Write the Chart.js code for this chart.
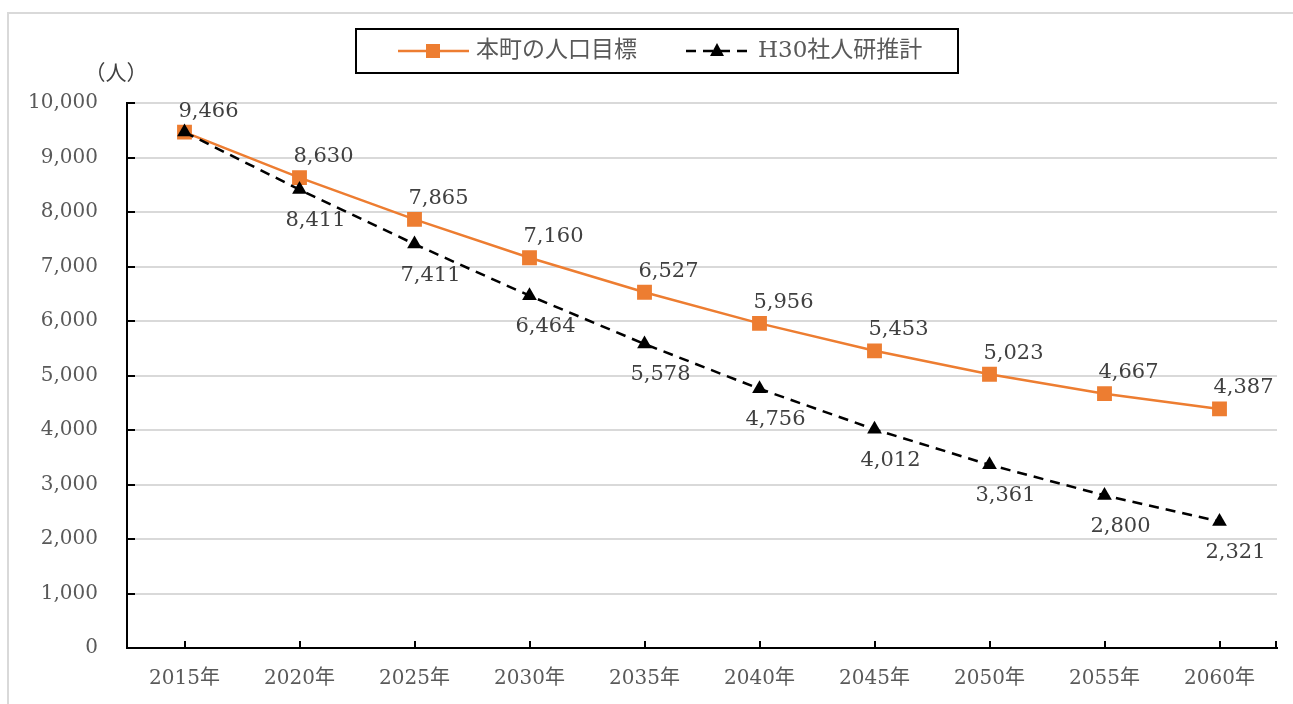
<!DOCTYPE html>
<html><head><meta charset="utf-8">
<script src="https://cdn.jsdelivr.net/npm/chart.js@4/dist/chart.umd.min.js"></script>
<style>html,body{margin:0;padding:0;background:#fff;}#wrap{width:1293px;height:704px;position:relative;}</style>
</head><body><div id="wrap"><canvas id="c" width="1293" height="704"></canvas></div>
<script>
const categories = ["2015年","2020年","2025年","2030年","2035年","2040年","2045年","2050年","2055年","2060年"];
const targetLabel = "本町の人口目標";
const targetValues = [9466, 8630, 7865, 7160, 6527, 5956, 5453, 5023, 4667, 4387];
const projLabel = "H30社人研推計";
const projValues = [9466, 8411, 7411, 6464, 5578, 4756, 4012, 3361, 2800, 2321];
const yTicks = [0,1000,2000,3000,4000,5000,6000,7000,8000,9000,10000];
const unitLabel = "（人）";

const ORANGE = "#ED7D31";
const FONT = '"DejaVu Serif", "Noto Sans CJK JP", serif';
const fmt = v => v.toLocaleString('en-US');

const overlay = {
  id: 'overlay',
  beforeDraw(chart) {
    const ctx = chart.ctx;
    ctx.save();
    ctx.strokeStyle = '#d9d9d9';
    ctx.lineWidth = 2;
    ctx.strokeRect(8, 13, 1400, 800);
    ctx.restore();
  },
  afterDatasetsDraw(chart) {
    const ctx = chart.ctx;
    const a = chart.chartArea;
    const xs = chart.scales.x, ys = chart.scales.y;
    ctx.save();
    // tick marks
    ctx.strokeStyle = '#000';
    ctx.lineWidth = 2;
    ctx.beginPath();
    yTicks.forEach(v => { const y = Math.round(ys.getPixelForValue(v)); ctx.moveTo(a.left, y); ctx.lineTo(a.left + 8, y); });
    categories.forEach((c, i) => { const x = Math.round(xs.getPixelForValue(i)); ctx.moveTo(x, a.bottom); ctx.lineTo(x, a.bottom - 7); });
    ctx.moveTo(a.right - 1, a.bottom); ctx.lineTo(a.right - 1, a.bottom - 7);
    ctx.stroke();
    // data labels
    ctx.font = '21px ' + FONT;
    ctx.fillStyle = '#404040';
    ctx.textAlign = 'center';
    ctx.textBaseline = 'middle';
    const mT = chart.getDatasetMeta(0), mP = chart.getDatasetMeta(1);
    mT.data.forEach((p, i) => { ctx.fillText(fmt(targetValues[i]), p.x + 24, p.y - 21); });
    mP.data.forEach((p, i) => { if (i === 0) return; ctx.fillText(fmt(projValues[i]), p.x + 16, p.y + 31); });
    // unit label
    ctx.font = '21px "Noto Sans CJK JP", sans-serif';
    ctx.fillStyle = '#404040';
    ctx.fillText(unitLabel, 116, 72);
    // legend
    ctx.fillStyle = '#fff';
    ctx.fillRect(356, 29, 602, 44);
    ctx.strokeStyle = '#000';
    ctx.lineWidth = 2;
    ctx.strokeRect(356, 29, 602, 44);
    const ly = 51;
    ctx.strokeStyle = ORANGE; ctx.lineWidth = 2.5;
    ctx.beginPath(); ctx.moveTo(398, ly); ctx.lineTo(469, ly); ctx.stroke();
    ctx.fillStyle = ORANGE; ctx.fillRect(426, ly - 7, 14, 14);
    ctx.strokeStyle = '#000'; ctx.setLineDash([10, 7]);
    ctx.beginPath(); ctx.moveTo(686, ly); ctx.lineTo(750, ly); ctx.stroke();
    ctx.setLineDash([]);
    ctx.fillStyle = '#000';
    ctx.beginPath(); ctx.moveTo(717, ly - 8); ctx.lineTo(724, ly + 5); ctx.lineTo(710, ly + 5); ctx.closePath(); ctx.fill();
    ctx.font = '23px ' + FONT;
    ctx.fillStyle = '#595959';
    ctx.textAlign = 'left';
    ctx.fillText(targetLabel, 476, ly);
    ctx.fillText(projLabel, 758, ly);
    ctx.restore();
  }
};

new Chart(document.getElementById('c'), {
  type: 'line',
  data: {
    labels: categories,
    datasets: [
      { label: targetLabel, data: targetValues, borderColor: ORANGE, backgroundColor: ORANGE, borderWidth: 2.5,
        pointStyle: 'rect', pointRadius: 10.5, pointBorderWidth: 0, tension: 0, order: 1 },
      { label: projLabel, data: projValues, borderColor: '#000', backgroundColor: '#000', borderWidth: 2.5,
        borderDash: [10, 7], pointStyle: 'triangle', pointRadius: 8.5, pointBorderWidth: 0, tension: 0, order: 0 }
    ]
  },
  options: {
    responsive: false,
    animation: false,
    devicePixelRatio: 1,
    layout: { padding: { left: 0, right: 16, top: 103, bottom: 0 } },
    plugins: { legend: { display: false }, tooltip: { enabled: false } },
    scales: {
      x: {
        offset: true,
        grid: { display: false, drawTicks: false },
        border: { display: true, color: '#000', width: 2 },
        ticks: { font: { family: FONT, size: 20 }, color: '#595959', padding: 19, maxRotation: 0 },
        afterFit(s) { s.height = 56; }
      },
      y: {
        min: 0, max: 10000,
        afterBuildTicks(s) { s.ticks = yTicks.map(v => ({ value: v })); },
        grid: { color: '#d9d9d9', lineWidth: 2, drawTicks: false },
        border: { display: true, color: '#000', width: 2 },
        ticks: { font: { family: FONT, size: 20 }, color: '#595959', padding: 29, callback: v => fmt(v) },
        afterFit(s) { s.width = 127; }
      }
    }
  },
  plugins: [overlay]
});
</script></body></html>
